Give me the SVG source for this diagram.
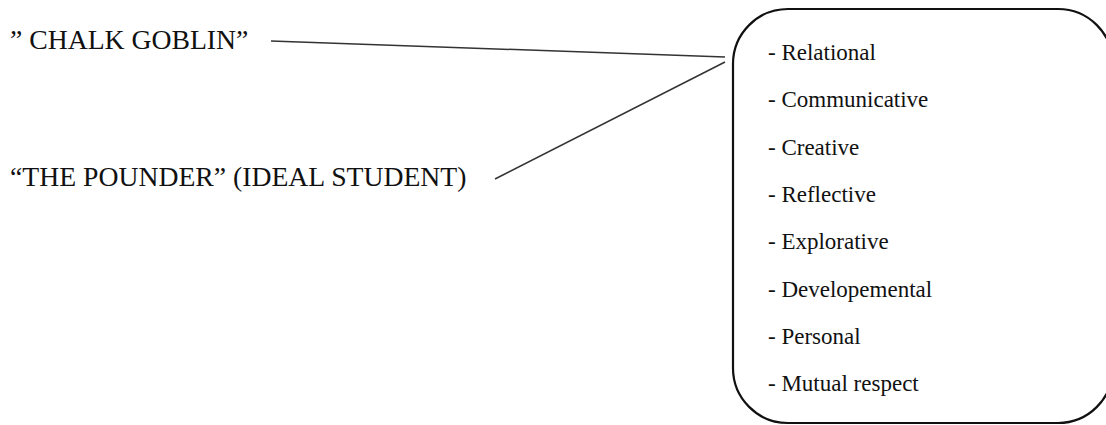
<svg xmlns="http://www.w3.org/2000/svg" width="1106" height="425" viewBox="0 0 1106 425">
<style>
.title{font-family:"Liberation Serif","Times New Roman",serif;font-size:27.7px;fill:#111}
.item{font-family:"Liberation Serif","Times New Roman",serif;font-size:23px;fill:#111}
.conn{stroke:#333;stroke-width:1.5;fill:none}
.box{stroke:#111;stroke-width:2.2;fill:#fff}
</style>
<rect width="1106" height="425" fill="#fff"/>
<g id="connectors">
<line class="conn" x1="271" y1="41" x2="725" y2="57"/>
<line class="conn" x1="495" y1="179" x2="725" y2="62"/>
</g>
<g id="chalk-goblin">
<text class="title" x="10" y="49">” CHALK GOBLIN”</text>
</g>
<g id="the-pounder">
<text class="title" x="10" y="186">“THE POUNDER” (IDEAL STUDENT)</text>
</g>
<g id="qualities">
<rect class="box" x="733" y="9" width="380" height="414" rx="55" ry="55"/>
<text class="item" x="768" y="60">- Relational</text>
<text class="item" x="768" y="107">- Communicative</text>
<text class="item" x="768" y="155">- Creative</text>
<text class="item" x="768" y="202">- Reflective</text>
<text class="item" x="768" y="249">- Explorative</text>
<text class="item" x="768" y="297">- Developemental</text>
<text class="item" x="768" y="344">- Personal</text>
<text class="item" x="768" y="391">- Mutual respect</text>
</g>
</svg>
